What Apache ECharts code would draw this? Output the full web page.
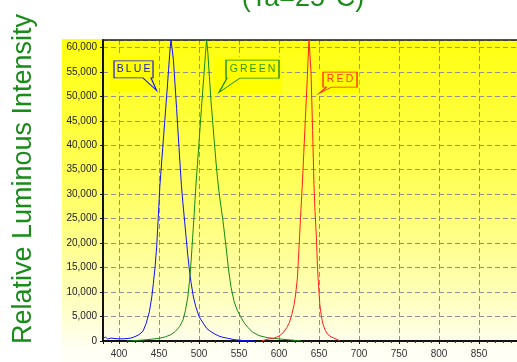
<!DOCTYPE html>
<html><head><meta charset="utf-8">
<script src="https://cdn.jsdelivr.net/npm/echarts@6/dist/echarts.min.js"></script>
<style>html,body{margin:0;padding:0;background:#fff}#c{width:517px;height:362px}</style>
</head><body><div id="c"></div>
<script>
// ---- data (wavelength nm, relative intensity) ----
const blueNm  = [380, 383, 386, 390, 395, 400, 405, 410, 415, 420, 425, 430, 434, 438, 441, 443, 445, 447, 449, 451, 454, 457, 460, 462, 464, 465, 466, 468, 470, 472, 475, 478, 480, 482, 484, 486, 488, 490, 493, 496, 500, 505, 510, 515, 520, 525, 530, 536, 545, 555, 570];
const blueVal = [500, 800, 400, 600, 500, 450, 450, 500, 600, 900, 1300, 2000, 3600, 6000, 9000, 11800, 15000, 19000, 25000, 31500, 38000, 44500, 51000, 55500, 60000, 61500, 61500, 57500, 52500, 47500, 39500, 31800, 28000, 24500, 21000, 17500, 14500, 12000, 9000, 7000, 5000, 3700, 2500, 1900, 1400, 1000, 750, 550, 250, 100, 0];

const greenNm  = [410, 420, 430, 440, 450, 458, 465, 470, 476, 480, 483, 486, 488, 490, 492, 494, 496, 498, 500, 503, 506, 508, 509.5, 510.5, 511, 513, 515, 517, 519, 521, 523, 525, 527, 530, 534, 537, 540, 544, 548, 552, 556, 561, 567, 575, 585, 595, 605, 615, 622, 628];
const greenVal = [0, 80, 200, 350, 550, 850, 1300, 1900, 3000, 4300, 6200, 9000, 12000, 16000, 21000, 26000, 31500, 36000, 40500, 47500, 54000, 58500, 61500, 61500, 59000, 54000, 49000, 45000, 41000, 37000, 33500, 30500, 28000, 24500, 19000, 14500, 11000, 8000, 6200, 5000, 3800, 2800, 1800, 1100, 700, 500, 350, 200, 100, 0];

const redNm  = [578, 582, 588, 594, 600, 605, 610, 613, 616, 619, 621, 623, 625, 627, 629, 631, 633, 635, 636.5, 637.5, 638.5, 640, 642, 643.7, 645, 646.8, 648, 649, 651, 653, 655, 658, 661, 665, 670, 674, 676];
const redVal = [0, 200, 450, 600, 1000, 1650, 2800, 3800, 5400, 7500, 9800, 12900, 19000, 25500, 31500, 38500, 45500, 52500, 58000, 61500, 61500, 55000, 43000, 32000, 26500, 21000, 15500, 12500, 7500, 5000, 3400, 2100, 1350, 850, 500, 200, 0];

const seriesNames   = ['BLUE', 'GREEN', 'RED'];
const calloutTipNm  = [446.9, 525, 650.3];
const calloutTipVal = [51200, 50800, 50600];

const yAxisTitle = 'Relative Luminous Intensity';
const chartTitle = '(Ta=25°C)';
const xMin = 380, xMax = 897.5, xStep = 50;
const yMin = 0, yMax = 61500, yStep = 5000;

// ---- styling ----
const lineColors = ['#1010ff', '#138a13', '#ff2020'];
const textColors = ['#2020c8', '#2f9a00', '#ff3a10'];
const fontFam = 'Liberation Sans, Arial, sans-serif';

// callout shapes (pixel geometry of the annotation boxes)
const callouts = [
  { path: 'path://M0,0 L39,0 L39,17 L37,17 L42.5,29.5 L29,17 L0,17 Z', size: [42.5, 29.5], off: [-21.25, -14.75], lab: [-1.75, -6.25],
    back: [47, 36], backOff: [-23, -16.5], text: 'B\u2009L\u2009U\u2009E' },
  { path: 'path://M7,0 L60,0 L60,18 L21,18 L0,32.3 L8,18 L7,18 Z', size: [60, 32.3], off: [30, -16.15], lab: [3.5, -7.15],
    back: [67.7, 37.3], backOff: [28.8, -17], text: 'G\u2009R\u2009E\u2009E\u2009N' },
  { path: 'path://M3.8,0 L37.8,0 L37.8,15 L12.3,15 L0,21.3 L7.3,15 L3.8,15 Z', size: [37.8, 21.3], off: [18.9, -10.65], lab: [1.9, -3.15],
    back: [41, 24], backOff: [19.6, -12], text: 'R\u2009E\u2009D' }
];

const pairs = (xs, ys) => xs.map((x, i) => [x, ys[i]]);
const dataSets = [pairs(blueNm, blueVal), pairs(greenNm, greenVal), pairs(redNm, redVal)];

const series = dataSets.map((d, i) => ({
  name: seriesNames[i],
  type: 'line',
  data: d,
  showSymbol: false,
  symbol: 'none',
  smooth: false,
  animation: false,
  lineStyle: { width: 1, color: lineColors[i] },
  markPoint: {
    silent: true,
    animation: false,
    data: [
      { coord: [calloutTipNm[i], calloutTipVal[i]], symbol: 'rect', symbolSize: callouts[i].back,
        symbolOffset: callouts[i].backOff, itemStyle: { color: '#ffff00', borderWidth: 0 }, label: { show: false } },
      { coord: [calloutTipNm[i], calloutTipVal[i]], symbol: callouts[i].path, symbolSize: callouts[i].size,
        symbolKeepAspect: false, symbolOffset: callouts[i].off,
        itemStyle: { color: '#ffff00', borderColor: lineColors[i], borderWidth: 1 },
        label: { show: true, position: 'inside', offset: callouts[i].lab, formatter: callouts[i].text,
                 color: textColors[i], fontSize: 10.5, fontFamily: fontFam } }
    ]
  }
}));

const chart = echarts.init(document.getElementById('c'), null, { renderer: 'canvas' });
chart.setOption({
  animation: false,
  backgroundColor: '#ffffff',
  grid: { left: 103, right: 0, top: 40, bottom: 21, containLabel: false },
  graphic: [
    { type: 'rect', z: -10, silent: true, shape: { x: 62, y: 39, width: 455, height: 323 },
      style: { fill: { type: 'linear', x: 0, y: 0, x2: 0, y2: 1, colorStops: [
        { offset: 0, color: '#ffff10' }, { offset: 0.45, color: '#ffff5c' },
        { offset: 0.8, color: '#ffffbc' }, { offset: 0.95, color: '#fffff2' }, { offset: 1, color: '#fffff8' } ] } } },
    { type: 'text', x: 24, y: 179, rotation: Math.PI / 2, silent: true,
      style: { text: yAxisTitle, fill: '#1a8c1a', fontSize: 27, fontFamily: fontFam, align: 'center', verticalAlign: 'middle' } },
    { type: 'text', x: 303, y: -1, silent: true,
      style: { text: chartTitle, fill: '#1a8c1a', fontSize: 27, fontFamily: fontFam, align: 'center', verticalAlign: 'middle' } }
  ],
  xAxis: [{
    type: 'value', min: xMin, max: xMax, minInterval: xStep, maxInterval: xStep, splitNumber: 10,
    axisLine: { show: true, onZero: false, lineStyle: { color: '#111', width: 2 } },
    axisTick: { show: true, length: 3, lineStyle: { color: '#111' } },
    minorTick: { show: true, splitNumber: 5, length: 2, lineStyle: { color: '#333' } },
    axisLabel: { showMinLabel: false, showMaxLabel: false, fontSize: 10, color: '#333', fontFamily: fontFam, margin: 8 },
    splitLine: { show: true, lineStyle: { color: '#909090', type: [5, 3], width: 1 } }
  }, {
    type: 'value', position: 'top', min: xMin, max: xMax,
    axisLine: { show: true, onZero: false, lineStyle: { color: '#222', width: 1.5 } },
    axisTick: { show: false }, axisLabel: { show: false }, splitLine: { show: false }
  }],
  yAxis: {
    type: 'value', min: yMin, max: yMax, interval: yStep,
    axisLine: { show: true, onZero: false, lineStyle: { color: '#111', width: 2 } },
    axisTick: { show: true, length: 3, lineStyle: { color: '#111' } },
    axisLabel: { showMaxLabel: false, fontSize: 10, color: '#222', fontFamily: fontFam, margin: 6,
                 formatter: v => v.toLocaleString('en-US') },
    splitLine: { show: true, lineStyle: { color: '#909090', type: [5, 3], width: 1 } }
  },
  series: series
});
</script></body></html>
